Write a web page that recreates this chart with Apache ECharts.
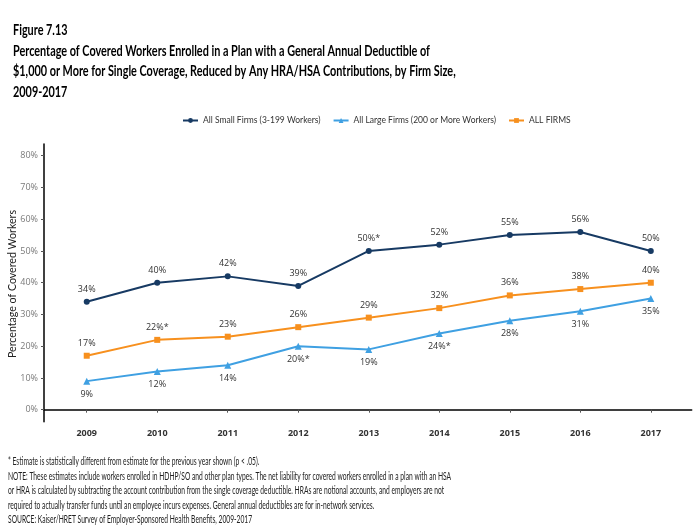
<!DOCTYPE html>
<html>
<head>
<meta charset="utf-8">
<script src="https://cdn.jsdelivr.net/npm/echarts@6/dist/echarts.min.js"></script>
<style>
html,body{margin:0;padding:0;background:#fff;}
#chart{width:698px;height:525px;}
</style>
</head>
<body>
<div id="chart"></div>
<script>
const years = [2009, 2010, 2011, 2012, 2013, 2014, 2015, 2016, 2017];
const smallFirms = [34, 40, 42, 39, 50, 52, 55, 56, 50];
const smallStar = [0, 0, 0, 0, 1, 0, 0, 0, 0];
const largeFirms = [9, 12, 14, 20, 19, 24, 28, 31, 35];
const largeStar = [0, 0, 0, 1, 0, 1, 0, 0, 0];
const allFirms = [17, 22, 23, 26, 29, 32, 36, 38, 40];
const allStar = [0, 1, 0, 0, 0, 0, 0, 0, 0];
const yTicks = [0, 10, 20, 30, 40, 50, 60, 70, 80];

const titleLines = [
  'Figure 7.13',
  'Percentage of Covered Workers Enrolled in a Plan with a General Annual Deductible of',
  '$1,000 or More for Single Coverage, Reduced by Any HRA/HSA Contributions, by Firm Size,',
  '2009-2017'
];
const noteLines = [
  '* Estimate is statistically different from estimate for the previous year shown (p < .05).',
  'NOTE: These estimates include workers enrolled in HDHP/SO and other plan types. The net liability for covered workers enrolled in a plan with an HSA',
  'or HRA is calculated by subtracting the account contribution from the single coverage deductible. HRAs are notional accounts, and employers are not',
  'required to actually transfer funds until an employee incurs expenses. General annual deductibles are for in-network services.',
  'SOURCE: Kaiser/HRET Survey of Employer-Sponsored Health Benefits, 2009-2017'
];
const yAxisName = 'Percentage of Covered Workers';

const titleFont = 'bold 15px Lato';
const noteFont = '10.5px Lato';
const yNameFont = '12px Lato';
const ctx = document.createElement('canvas').getContext('2d');
function textWidth(font, t) { ctx.font = font; return ctx.measureText(t).width; }
const titleScale = 417 / textWidth(titleFont, titleLines[1]);
const noteScale = 437 / textWidth(noteFont, noteLines[1]) * 1.014;

const pairs = (vals) => years.map((y, i) => [y, vals[i]]);
const labelFmt = (stars) => (p) => p.value[1] + '%' + (stars[p.dataIndex] ? '*' : '');
const labelFont = { fontFamily: 'Open Sans', fontSize: 9, color: '#333' };

const graphics = [];
titleLines.forEach((t, i) => {
  graphics.push({
    type: 'text', x: 13, y: 23 + i * 20.4, scaleX: titleScale,
    style: { text: t, font: titleFont, fill: '#000' }
  });
});
noteLines.forEach((t, i) => {
  graphics.push({
    type: 'text', x: 8, y: 456.5 + i * 14.5, scaleX: noteScale,
    style: { text: t, font: noteFont, fill: '#222' }
  });
});
graphics.push({
  type: 'text', x: 12, y: 284, rotation: Math.PI / 2, scaleX: Math.min(1, 148 / textWidth(yNameFont, yAxisName)),
  style: { text: yAxisName, font: yNameFont, fill: '#222', align: 'center', verticalAlign: 'middle' }
});

const chart = echarts.init(document.getElementById('chart'), null, { renderer: 'canvas' });
chart.setOption({
  animation: false,
  backgroundColor: '#fff',
  graphic: graphics,
  legend: {
    top: 111,
    left: 177,
    itemWidth: 15,
    itemHeight: 6,
    itemGap: 12,
    textStyle: { fontFamily: 'Lato', fontSize: 8.5, color: '#333' },
    data: ['All Small Firms (3-199 Workers)', 'All Large Firms (200 or More Workers)', 'ALL FIRMS']
  },
  grid: { left: 44, right: 6.3, top: 144, bottom: 103.3, containLabel: false },
  xAxis: {
    type: 'value',
    min: 2008.394,
    max: 2017.58,
    splitLine: { show: false },
    axisLine: { show: true, lineStyle: { color: '#000', width: 1.5 } },
    axisTick: { show: true, customValues: years, length: 3, lineStyle: { color: '#555' } },
    axisLabel: {
      customValues: years, formatter: (v) => String(v), margin: 7,
      fontFamily: 'Open Sans', fontSize: 9, fontWeight: 'bold', color: '#333'
    }
  },
  yAxis: {
    type: 'value',
    min: -3.78,
    max: 83.7,
    splitLine: { show: false },
    axisLine: { show: true, lineStyle: { color: '#000', width: 1.5 } },
    axisTick: { show: true, customValues: yTicks, length: 3, lineStyle: { color: '#555' } },
    axisLabel: {
      customValues: yTicks, formatter: (v) => v + '%', margin: 6,
      fontFamily: 'Open Sans', fontSize: 9, color: '#7a7a7a'
    }
  },
  series: [
    {
      name: 'All Small Firms (3-199 Workers)', type: 'line',
      data: pairs(smallFirms), color: '#173a63',
      symbol: 'circle', symbolSize: 6, lineStyle: { width: 2 },
      label: { show: true, position: 'top', distance: 5, formatter: labelFmt(smallStar), ...labelFont }
    },
    {
      name: 'All Large Firms (200 or More Workers)', type: 'line',
      data: pairs(largeFirms), color: '#3fa0e2',
      symbol: 'triangle', symbolSize: 7, lineStyle: { width: 2 },
      label: { show: true, position: 'bottom', distance: 5, formatter: labelFmt(largeStar), ...labelFont }
    },
    {
      name: 'ALL FIRMS', type: 'line',
      data: pairs(allFirms), color: '#f7901e',
      symbol: 'rect', symbolSize: 6, lineStyle: { width: 2 },
      label: { show: true, position: 'top', distance: 5, formatter: labelFmt(allStar), ...labelFont }
    }
  ]
});
</script>
</body>
</html>
